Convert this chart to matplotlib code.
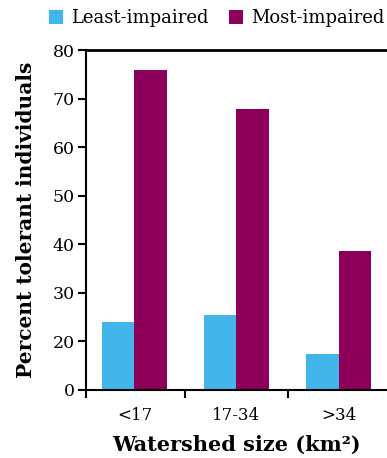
import matplotlib.pyplot as plt
import numpy as np

# data
categories = ["<17", "17-34", ">34"]
least_impaired = [24.0, 25.4, 17.4]
most_impaired = [75.9, 67.9, 38.6]
# the original axis labels its bottom gridline "0" (it sits where 10 would be)
ytick_values = [10, 20, 30, 40, 50, 60, 70, 80]
ytick_labels = ["0", "20", "30", "40", "50", "60", "70", "80"]

blue = "#42B6EA"
purple = "#8C005A"

plt.rcParams["font.family"] = "DejaVu Serif"

fig = plt.figure(figsize=(3.87, 4.58), dpi=100)
ax = fig.add_axes([0.2222, 0.1485, 0.7778, 0.7423])

x = np.arange(len(categories))
w = 0.315
b1 = ax.bar(x - w / 2, least_impaired, w, color=blue, label="Least-impaired")
b2 = ax.bar(x + w / 2, most_impaired, w, color=purple, label="Most-impaired")

ax.set_ylim(10, 80)
ax.set_xlim(-0.475, 2.475)
ax.set_yticks(ytick_values)
ax.set_yticklabels(ytick_labels, fontsize=12.5)

# category labels at centres, tick marks at group boundaries
ax.set_xticks(x)
ax.set_xticklabels(categories, fontsize=12)
ax.tick_params(axis="x", length=0, pad=12)
ax.set_xticks([-0.475, 0.5, 1.5], minor=True)
ax.tick_params(axis="x", which="minor", length=6, width=1.5, direction="out")
ax.tick_params(axis="y", length=6, width=1.5, direction="out", pad=2)

for s in ["left", "bottom", "top"]:
    ax.spines[s].set_linewidth(1.5)
ax.spines["top"].set_linewidth(2)
ax.spines["right"].set_visible(False)

ax.set_xlabel("Watershed size (km²)", fontsize=15, fontweight="bold", labelpad=8)
ax.set_ylabel("Percent tolerant individuals", fontsize=14.5, fontweight="bold", labelpad=12)

fig.legend(handles=[b1, b2], loc="upper center", bbox_to_anchor=(0.56, 1.015), ncol=2,
           frameon=False, fontsize=13, handlelength=0.8, handleheight=0.8,
           handletextpad=0.45, columnspacing=1.1)

fig.savefig("out.png", dpi=100)
